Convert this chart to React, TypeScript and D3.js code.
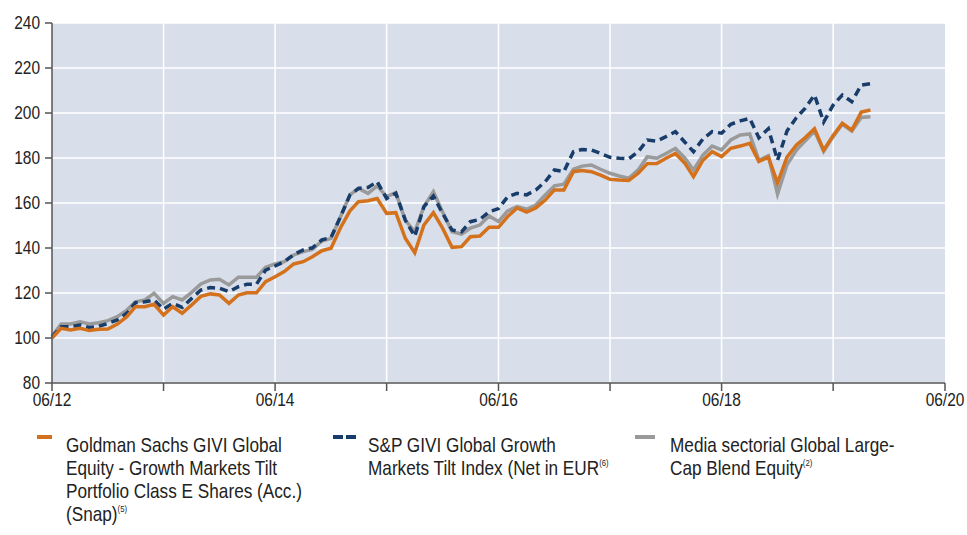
import * as d3 from 'd3'
import React from 'react'

// monthly index values, 06/2012 .. 10/2019
const fund = [
  100, 104.3, 103.6, 104.3, 103.3, 103.9, 104, 106.2, 109.5, 113.9, 113.9, 115,
  110.2, 113.9, 111, 114.7, 118.5, 119.6, 119.1, 115.4, 119.1, 120.1, 120.1, 125,
  127.2, 129.5, 132.9, 133.9, 136.1, 138.8, 139.9, 149, 156.5, 160.6, 161, 162,
  155.4, 155.7, 144.3, 137.9, 150.2, 155.7, 148.8, 140.3, 140.6, 145, 145.3, 149.2,
  149.2, 154, 157.8, 156, 157.8, 161.3, 165.8, 165.8, 173.9, 174.4, 173.9, 172.4,
  170.5, 170.2, 170, 173.2, 177.5, 177.6, 179.9, 182, 177.6, 171.7, 179, 182.8,
  180.6, 184.3, 185.3, 186.5, 178.5, 180.4, 169, 180.4, 185.8, 189, 193, 183.5,
  190, 195.5, 192.4, 200.4, 201.3,
]

const benchmark = [
  100.5, 105, 105, 105.8, 104.7, 105.2, 106.5, 108, 111, 115.7, 116.1, 116.9,
  112.8, 115.4, 113.6, 117.6, 121.3, 122.4, 122.1, 120.6, 122.8, 123.9, 123.9, 130.2,
  132, 133.9, 137.1, 139.1, 140.1, 143.6, 144.7, 153.9, 163.6, 166.5, 166.9, 169.5,
  162, 164.3, 152.4, 145.2, 158.4, 163.1, 155.4, 148, 147.2, 151.7, 152.7, 156.1,
  157.5, 162.8, 164.3, 163.6, 165.8, 169.5, 174.7, 174, 182.8, 183.8, 183.6, 182,
  180.3, 179.9, 179.6, 182.8, 188, 187.5, 189.5, 191.7, 187, 182.8, 188.5, 191.7,
  191, 195, 196.5, 197.6, 189, 193, 179, 192, 198, 202, 208, 196,
  203.5, 208, 205, 212.4, 213,
]

const peers = [
  100.9, 106.2, 106.2, 107.2, 106.2, 106.8, 107.7, 109.5, 112.4, 116.1, 116.9, 119.9,
  115.4, 118.4, 116.9, 120.3, 124, 125.8, 126.1, 123.6, 127, 127, 127, 131.4,
  132.9, 133.9, 136.9, 138.4, 139.4, 143.1, 144.3, 153.9, 163.6, 166.5, 164.3, 167.6,
  162.8, 164.6, 152.4, 147.2, 158.4, 165, 156, 147.2, 146.2, 148.8, 150.2, 154.2,
  151.8, 156.5, 158.4, 157.2, 159.1, 163.6, 167.6, 168.4, 175, 176.4, 176.9, 175,
  173.2, 172, 171, 174.7, 180.6, 179.9, 182, 184.3, 179.9, 174.7, 181.3, 185.3,
  183.6, 188, 190.2, 190.7, 179, 181, 164, 177, 183.5, 187.5, 192, 183,
  189.5, 195, 192, 198, 198.3,
]

const yTicks = [80, 100, 120, 140, 160, 180, 200, 220, 240]
const xTickYears = [2012, 2013, 2014, 2015, 2016, 2017, 2018, 2019, 2020]
const xTickLabels = ['06/12', '', '06/14', '', '06/16', '', '06/18', '', '06/20']

const legendFund = ['Goldman Sachs GIVI Global', 'Equity - Growth Markets Tilt', 'Portfolio Class E Shares (Acc.)', '(Snap)']
const legendBench = ['S&P GIVI Global Growth', 'Markets Tilt Index (Net in EUR']
const legendPeers = ['Media sectorial Global Large-', 'Cap Blend Equity']

const W = 967
const H = 535
const left = 52
const right = 945
const top = 23
const bottom = 383

const ORANGE = '#d4711c'
const NAVY = '#193d6b'
const GRAY = '#9a9a9a'
const BG = '#d9dfea'
const AXIS = '#555'
const FONT = '"Liberation Sans", Arial, sans-serif'
const SQUEEZE = 0.86 // condensed look

const start = new Date(2012, 5, 1)

export default function App() {
  const x = d3.scaleTime()
    .domain([new Date(2012, 5, 1), new Date(2020, 5, 1)])
    .range([left, right])
  const y = d3.scaleLinear().domain([80, 240]).range([bottom, top])

  const line = d3.line<number>()
    .x((d, i) => x(d3.timeMonth.offset(start, i)))
    .y(d => y(d))

  const xTicks = xTickYears.map(yr => new Date(yr, 5, 1))

  const legendText = (lines: string[], lx: number, sup: string) =>
    lines.map((t, i) => (
      <text key={i} transform={`translate(${lx},${452 + i * 23}) scale(${SQUEEZE},1)`} fontSize={20} fill="#222">
        {t}
        {i === lines.length - 1 && <tspan fontSize={9} dy={-9}>{sup}</tspan>}
      </text>
    ))

  return (
    <svg width={W} height={H} style={{ position: 'absolute', left: 0, top: 0 }} fontFamily={FONT}>
      <rect x={left} y={top} width={right - left} height={bottom - top} fill={BG} />

      {/* grid */}
      {yTicks.map(t => (
        <line key={'gy' + t} x1={left} x2={right} y1={y(t)} y2={y(t)} stroke="#fff" strokeWidth={1.5} />
      ))}
      {xTicks.slice(1, -1).map((d, i) => (
        <line key={'gx' + i} x1={x(d)} x2={x(d)} y1={top} y2={bottom} stroke="#fff" strokeWidth={1.5} />
      ))}

      {/* series */}
      <path d={line(peers) || ''} fill="none" stroke={GRAY} strokeWidth={3.5} />
      <path d={line(benchmark) || ''} fill="none" stroke={NAVY} strokeWidth={3.5} strokeDasharray="8 5" />
      <path d={line(fund) || ''} fill="none" stroke={ORANGE} strokeWidth={3.5} />

      {/* y axis */}
      <line x1={left} x2={left} y1={top} y2={bottom} stroke={AXIS} strokeWidth={1.5} />
      {yTicks.map(t => (
        <g key={'yt' + t} transform={`translate(0,${y(t)})`}>
          <line x1={left - 7} x2={left} stroke={AXIS} strokeWidth={1.5} />
          <text transform={`translate(40,0) scale(${SQUEEZE},1)`} dy="0.35em" textAnchor="end" fontSize={18} fill="#222">{t}</text>
        </g>
      ))}

      {/* x axis */}
      <line x1={left} x2={right} y1={bottom} y2={bottom} stroke={AXIS} strokeWidth={1.5} />
      {xTicks.map((d, i) => (
        <g key={'xt' + i} transform={`translate(${x(d)},${bottom})`}>
          <line y1={0} y2={8} stroke={AXIS} strokeWidth={1.5} />
          <text transform={`translate(0,23) scale(${SQUEEZE},1)`} textAnchor="middle" fontSize={18} fill="#222">{xTickLabels[i]}</text>
        </g>
      ))}

      {/* legend */}
      <line x1={37} x2={52} y1={437} y2={437} stroke={ORANGE} strokeWidth={4} />
      {legendText(legendFund, 66, '(5)')}
      <line x1={333} x2={356} y1={437} y2={437} stroke={NAVY} strokeWidth={4} strokeDasharray="10 3" />
      {legendText(legendBench, 368, '(6)')}
      <line x1={635} x2={655} y1={437} y2={437} stroke={GRAY} strokeWidth={4} />
      {legendText(legendPeers, 670, '(2)')}
    </svg>
  )
}
